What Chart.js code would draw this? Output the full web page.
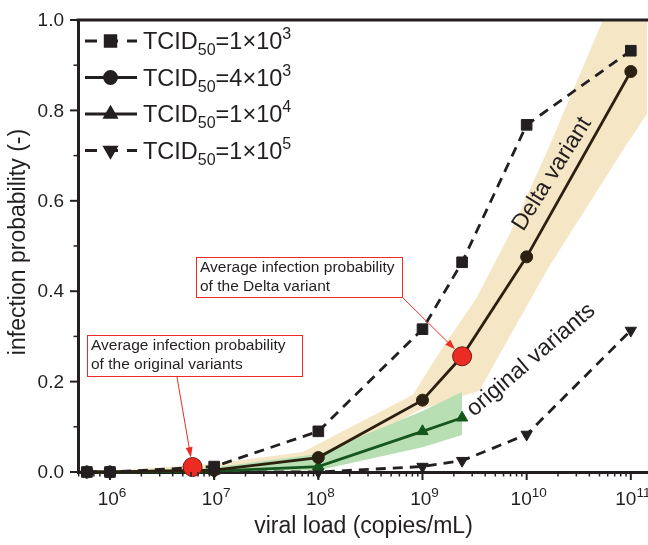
<!DOCTYPE html>
<html>
<head>
<meta charset="utf-8">
<script src="https://cdn.jsdelivr.net/npm/chart.js@4.4.1/dist/chart.umd.min.js"></script>
<style>
  html, body { margin: 0; padding: 0; background: #fff; }
</style>
</head>
<body>
<canvas id="cnv" width="648" height="545"></canvas>
<script>
// viral load (copies/mL) and infection probability for each TCID50
var loads = [6e5, 1e6, 1e7, 1e8, 1e9, 2.4e9, 1e10, 1e11];
var loadsShort = [6e5, 1e6, 1e7, 1e8, 1e9, 2.4e9];
var prob1e3 = [0, 0, 0.012, 0.09, 0.316, 0.464, 0.768, 0.932];
var prob4e3 = [0, 0, 0.004, 0.032, 0.159, 0.256, 0.476, 0.886];
var prob1e4 = [0, 0, 0.002, 0.012, 0.09, 0.12];
var prob1e5 = [0, 0, 0, 0, 0.012, 0.025, 0.083, 0.313];

// shaded ranges
var deltaHiX = [1e6, 1e7, 7.1e7, 8.1e8, 1.48e9, 3.3e9, 6.9e9, 1.58e10, 5.4e10, 1.5e11];
var deltaHi  = [0.002, 0.018, 0.044, 0.171, 0.267, 0.385, 0.527, 0.711, 1.0, 1.25];
var deltaLoX = [1e6, 1e7, 1e8, 1e9, 3.5e9, 1.6e10, 8.3e10, 1.5e11];
var deltaLo  = [0, 0.003, 0.02, 0.14, 0.18, 0.45, 0.71, 0.8];
var origX  = [1e6, 1e7, 1e8, 1e9, 2.4e9];
var origHi = [0.003, 0.01, 0.04, 0.135, 0.177];
var origLo = [0, 0.001, 0.004, 0.055, 0.082];

// highlighted averages
var avgX = [6.2e6, 2.4e9];
var avgP = [0.011, 0.256];

// tick / legend text
var xExps = ['6', '7', '8', '9', '10', '11'];
var yTicks = ['0.0', '0.2', '0.4', '0.6', '0.8', '1.0'];
var legCoef = ['1', '4', '1', '1'];
var legExp = ['3', '3', '4', '5'];

var ink = '#231f20';
var brown = '#2c2110';
var green = '#15561e';
var FONT = '"Liberation Sans", Arial, Helvetica, sans-serif';

function pts(xs, ys)
{
	return xs.map((x, i) => ({x: x, y: ys[i]}));
}

function series(data, color, style, rot, dashed, order)
{
	return {
		data: data,
		borderColor: color,
		backgroundColor: color,
		borderWidth: 2.8,
		borderDash: dashed ? [10, 7] : [],
		pointStyle: style,
		pointRotation: rot,
		pointRadius: style == 'rect' ? 7.5 : (style == 'circle' ? 6 : 6.5),
		pointBackgroundColor: color,
		pointBorderColor: color,
		pointBorderWidth: 1,
		tension: 0,
		fill: false,
		clip: false,
		order: order
	};
}

function band(data, color, fill, order)
{
	return {
		data: data,
		borderWidth: 0,
		borderColor: 'rgba(0,0,0,0)',
		backgroundColor: color,
		pointRadius: 0,
		tension: 0,
		fill: fill,
		order: order
	};
}

var datasets = [
	series(pts(loads, prob1e3), ink, 'rect', 0, true, 2),
	series(pts(loads, prob4e3), brown, 'circle', 0, false, 3),
	series(pts(loadsShort, prob1e4), green, 'triangle', 0, false, 4),
	series(pts(loads, prob1e5), ink, 'triangle', 180, true, 5),
	band(pts(deltaLoX, deltaLo), 'rgba(0,0,0,0)', false, 21),
	band(pts(deltaHiX, deltaHi), '#f5e7c6', '-1', 20),
	band(pts(origX, origLo), 'rgba(0,0,0,0)', false, 11),
	band(pts(origX, origHi), '#b8deb3', '-1', 10),
	{
		data: pts(avgX, avgP),
		showLine: false,
		pointRadius: 9.5,
		pointBackgroundColor: '#ec2c24',
		pointBorderColor: '#6b1c12',
		pointBorderWidth: 1,
		clip: false,
		order: 0
	}
];

function rich(ctx, parts, x, y, align)
{
	var w = 0;
	parts.forEach(p => {
		ctx.font = p[1] + 'px ' + FONT;
		w += ctx.measureText(p[0]).width;
	});
	var cx = align == 'center' ? x - w / 2 : (align == 'right' ? x - w : x);
	ctx.textAlign = 'left';
	parts.forEach(p => {
		ctx.font = p[1] + 'px ' + FONT;
		ctx.fillText(p[0], cx, y + (p[2] || 0));
		cx += ctx.measureText(p[0]).width;
	});
}

function arrow(ctx, x0, y0, x1, y1, stopShort)
{
	var a = Math.atan2(y1 - y0, x1 - x0);
	var tx = x1 - Math.cos(a) * stopShort;
	var ty = y1 - Math.sin(a) * stopShort;
	ctx.strokeStyle = '#ec2c24';
	ctx.fillStyle = '#ec2c24';
	ctx.lineWidth = 1;
	ctx.setLineDash([]);
	ctx.beginPath();
	ctx.moveTo(x0, y0);
	ctx.lineTo(tx - Math.cos(a) * 6, ty - Math.sin(a) * 6);
	ctx.stroke();
	ctx.beginPath();
	ctx.moveTo(tx, ty);
	ctx.lineTo(tx - Math.cos(a) * 10 + Math.sin(a) * 3.5, ty - Math.sin(a) * 10 - Math.cos(a) * 3.5);
	ctx.lineTo(tx - Math.cos(a) * 10 - Math.sin(a) * 3.5, ty - Math.sin(a) * 10 + Math.cos(a) * 3.5);
	ctx.closePath();
	ctx.fill();
}

function noteBox(ctx, x, y, w, h, lines)
{
	ctx.fillStyle = '#fff';
	ctx.fillRect(x, y, w, h);
	ctx.strokeStyle = '#ec2c24';
	ctx.lineWidth = 1;
	ctx.setLineDash([]);
	ctx.strokeRect(x + 0.5, y + 0.5, w, h);
	ctx.fillStyle = ink;
	ctx.font = '15.5px ' + FONT;
	ctx.textAlign = 'left';
	ctx.textBaseline = 'middle';
	lines.forEach((t, i) => ctx.fillText(t, x + 4, y + 11 + i * 19));
}

function rotText(ctx, t, x, y, deg, size)
{
	ctx.save();
	ctx.translate(x, y);
	ctx.rotate(deg * Math.PI / 180);
	ctx.font = size + 'px ' + FONT;
	ctx.fillStyle = ink;
	ctx.textAlign = 'center';
	ctx.textBaseline = 'middle';
	ctx.fillText(t, 0, 0);
	ctx.restore();
}

var deco = {
	id: 'deco',
	afterDraw(chart)
	{
		var ctx = chart.ctx;
		var xs = chart.scales.x, ys = chart.scales.y;
		var area = chart.chartArea;
		ctx.save();

		// top frame line
		ctx.strokeStyle = ink;
		ctx.lineWidth = 3;
		ctx.beginPath();
		ctx.moveTo(area.left - 1.5, area.top);
		ctx.lineTo(area.right + 2, area.top);
		ctx.stroke();

		// x ticks (log, major + minor)
		for (var n = 5; n <= 11; n++)
		{
			for (var k = 1; k <= 9; k++)
			{
				var v = k * Math.pow(10, n);
				if (v < xs.min || v > xs.max) continue;
				var px = xs.getPixelForValue(v);
				ctx.lineWidth = k == 1 ? 2 : 1.5;
				ctx.beginPath();
				ctx.moveTo(px, area.bottom);
				ctx.lineTo(px, area.bottom + (k == 1 ? 8 : 4.5));
				ctx.stroke();
			}
		}
		// y ticks
		for (var j = 0; j <= 10; j++)
		{
			var py = ys.getPixelForValue(j / 10);
			var major = j % 2 == 0;
			ctx.lineWidth = major ? 2 : 1.5;
			ctx.beginPath();
			ctx.moveTo(area.left, py);
			ctx.lineTo(area.left - (major ? 8 : 4.5), py);
			ctx.stroke();
		}

		// tick labels
		ctx.fillStyle = ink;
		ctx.textBaseline = 'alphabetic';
		xExps.forEach(e => {
			var px = xs.getPixelForValue(Math.pow(10, +e));
			rich(ctx, [['10', 19], [e, 13.5, -8]], px + 2, area.bottom + 33, 'center');
		});
		ctx.textBaseline = 'middle';
		yTicks.forEach(t => {
			ctx.font = '19px ' + FONT;
			ctx.textAlign = 'right';
			ctx.fillText(t, area.left - 14, ys.getPixelForValue(+t) + 1);
		});

		// axis titles
		ctx.font = '23px ' + FONT;
		ctx.textAlign = 'center';
		ctx.fillText('viral load (copies/mL)', (area.left + area.right) / 2 + 1, 527);
		ctx.save();
		ctx.translate(19, 242);
		ctx.rotate(-Math.PI / 2);
		ctx.fillText('infection probability (-)', 0, 0);
		ctx.restore();

		// legend
		var rowY = 41;
		for (var i = 0; i < 4; i++)
		{
			var ds = chart.data.datasets[i];
			var y = rowY + i * 36.5;
			ctx.strokeStyle = ink;
			ctx.lineWidth = 2.8;
			ctx.setLineDash(ds.borderDash.length ? [12, 9] : []);
			ctx.beginPath();
			ctx.moveTo(85, y);
			ctx.lineTo(137, y);
			ctx.stroke();
			ctx.setLineDash([]);
			Chart.helpers.drawPoint(ctx, {
				pointStyle: ds.pointStyle,
				rotation: ds.pointRotation,
				radius: ds.pointRadius,
				borderWidth: 1
			}, 110.5, y);
			ctx.fillStyle = ink;
			ctx.fill();
			ctx.textBaseline = 'alphabetic';
			rich(ctx, [['TCID', 23.5], ['50', 16, 6], ['=' + legCoef[i] + '×10', 23.5], [legExp[i], 16, -10]], 143, y + 8, 'left');
		}

		// rotated labels
		rotText(ctx, 'Delta variant', 552, 174, -58, 23);
		rotText(ctx, 'original variants', 531, 360, -40.5, 23);

		// notes with arrows to the averaged points
		var a0x = xs.getPixelForValue(avgX[0]), a0y = ys.getPixelForValue(avgP[0]);
		var a1x = xs.getPixelForValue(avgX[1]), a1y = ys.getPixelForValue(avgP[1]);
		arrow(ctx, 402, 297, a1x, a1y, 10);
		arrow(ctx, 177, 377, a0x, a0y, 10);
		noteBox(ctx, 196, 257, 206, 40, ['Average infection probability', 'of the Delta variant']);
		noteBox(ctx, 87, 335, 215, 41, ['Average infection probability', 'of the original variants']);

		ctx.restore();
	}
};

new Chart(document.getElementById('cnv').getContext('2d'), {
	type: 'line',
	data: { datasets: datasets },
	options: {
		responsive: false,
		animation: false,
		layout: { autoPadding: false, padding: { top: 20, right: 1, left: 0, bottom: 0 } },
		plugins: { legend: { display: false }, tooltip: { enabled: false } },
		scales: {
			x: {
				type: 'logarithmic',
				min: 4.93e5,
				max: 1.43e11,
				grid: { display: false },
				border: { display: true, color: ink, width: 3 },
				ticks: { display: false },
				afterFit: s => { s.height = 73; }
			},
			y: {
				min: 0,
				max: 1,
				grid: { display: false },
				border: { display: true, color: ink, width: 3 },
				ticks: { display: false },
				afterFit: s => { s.width = 78; }
			}
		}
	},
	plugins: [deco]
});
</script>
</body>
</html>
